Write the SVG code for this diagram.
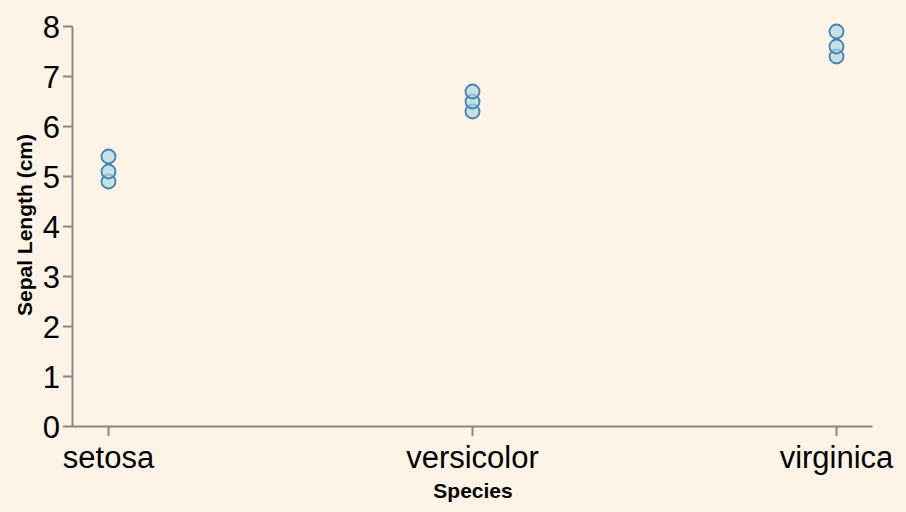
<svg xmlns="http://www.w3.org/2000/svg" width="906" height="512" viewBox="0 0 906 512">
  <style>
    .axis { stroke: #888888; stroke-width: 2; fill: none; }
    .lbl { font-family: "Liberation Sans", Arial, sans-serif; font-size: 31px; fill: #000000; }
    .ttl { font-family: "Liberation Sans", Arial, sans-serif; font-size: 21px; font-weight: bold; fill: #000000; }
    .pt { fill: #add8e6; fill-opacity: 0.7; stroke: #4682b4; stroke-width: 1.8; }
  </style>
  <rect x="0" y="0" width="906" height="512" fill="#fdf3e6"/>
  <g id="y-axis">
    <line class="axis" x1="72.5" y1="26.5" x2="72.5" y2="426.5"/>
    <path class="axis" d="M63 26.5H72.5M63 76.5H72.5M63 126.5H72.5M63 176.5H72.5M63 226.5H72.5M63 276.5H72.5M63 326.5H72.5M63 376.5H72.5M63 426.5H72.5"/>
    <g class="lbl" text-anchor="end">
      <text x="60" y="38">8</text>
      <text x="60" y="88">7</text>
      <text x="60" y="138">6</text>
      <text x="60" y="188">5</text>
      <text x="60" y="238">4</text>
      <text x="60" y="288">3</text>
      <text x="60" y="338">2</text>
      <text x="60" y="388">1</text>
      <text x="60" y="438">0</text>
    </g>
    <text class="ttl" text-anchor="middle" transform="translate(32,225) rotate(-90)">Sepal Length (cm)</text>
  </g>
  <g id="x-axis">
    <line class="axis" x1="72.5" y1="426.5" x2="872.5" y2="426.5"/>
    <path class="axis" d="M108.5 426.5V436M472.5 426.5V436M836.5 426.5V436"/>
    <g class="lbl" text-anchor="middle">
      <text x="108.5" y="468">setosa</text>
      <text x="472.5" y="468">versicolor</text>
      <text x="836.5" y="468">virginica</text>
    </g>
    <text class="ttl" text-anchor="middle" x="473" y="498">Species</text>
  </g>
  <g id="points">
    <g id="setosa">
      <circle class="pt" cx="108.5" cy="181.5" r="7"/>
      <circle class="pt" cx="108.5" cy="171.5" r="7"/>
      <circle class="pt" cx="108.5" cy="156.5" r="7"/>
    </g>
    <g id="versicolor">
      <circle class="pt" cx="472.5" cy="111.5" r="7"/>
      <circle class="pt" cx="472.5" cy="101.5" r="7"/>
      <circle class="pt" cx="472.5" cy="91.5" r="7"/>
    </g>
    <g id="virginica">
      <circle class="pt" cx="836.5" cy="56.5" r="7"/>
      <circle class="pt" cx="836.5" cy="46.5" r="7"/>
      <circle class="pt" cx="836.5" cy="31.5" r="7"/>
    </g>
  </g>
</svg>
